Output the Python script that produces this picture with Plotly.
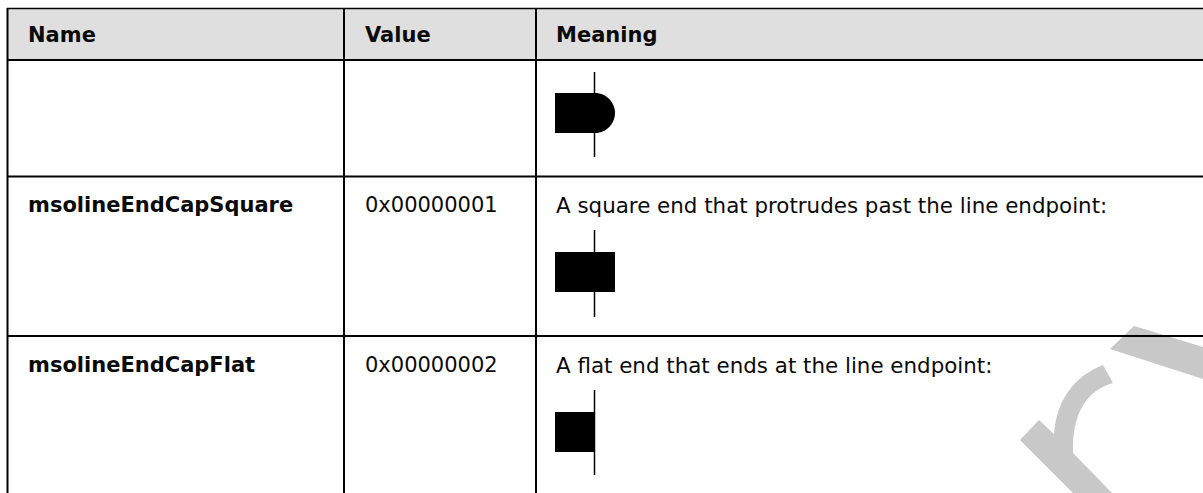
import plotly.graph_objects as go

W, H = 1203, 493
headers = ["Name", "Value", "Meaning"]
names = ["msolineEndCapSquare", "msolineEndCapFlat"]
values = ["0x00000001", "0x00000002"]
meanings = ["A square end that protrudes past the line endpoint:",
            "A flat end that ends at the line endpoint:"]

FONT = "DejaVu Sans, Verdana, sans-serif"
fig = go.Figure()
shapes = []
ann = []

def line(x0, y0, x1, y1, c="black", w=2):
    shapes.append(dict(type="line", x0=x0, y0=y0, x1=x1, y1=y1, line=dict(color=c, width=w), layer="above"))

def rect(x0, y0, x1, y1, c="black"):
    shapes.append(dict(type="rect", x0=x0, y0=y0, x1=x1, y1=y1, fillcolor=c, line=dict(width=0)))

def text(x, y, s, bold=False, size=21):
    ann.append(dict(x=x, y=y, text=f"<b>{s}</b>" if bold else s, showarrow=False, xanchor="left", yanchor="middle",
                    xref="x", yref="y", font=dict(family=FONT, size=size, color="#0a0a0a"), align="left"))

rect(8, 9, W, 60, "#dfdfdf")
# watermark
wm = "#c8c8c8"
shapes.append(dict(type="path", path="M1134,326 L1203,347 L1203,379 L1110,349 Z", fillcolor=wm, line=dict(width=0)))
shapes.append(dict(type="path", path="M1039,420 L1020,440 L1073,493 L1112,493 L1073,453 C1072,413 1087,390 1113,383 L1103,365 C1077,375 1057,397 1054,434 Z", fillcolor=wm, line=dict(width=0)))

line(7, 8.5, W, 8.5, w=1.5)
for y in (60, 176.5, 336):
    line(7, y, W, y)
for x in (7.5, 344, 536):
    line(x, 8, x, H)

for x, h in zip((26, 363, 554), headers):
    text(x, 35, h, True)
for y, n, v, m in zip((205, 365), names, values, meanings):
    text(26, y, n, True)
    text(363, y, v)
    text(554, y, m, size=21.4)

# icons
ICON_L, ICON_R = 555, 615
for cy, top, bot, kind in ((113, 72, 157, "round"), (272, 230, 317, "square"), (432, 390, 475, "flat")):
    if kind == "round":
        shapes.append(dict(type="path", fillcolor="black", line=dict(width=0),
            path=f"M{ICON_L},{cy-20} L{ICON_R-20},{cy-20} C{ICON_R-8},{cy-20} {ICON_R},{cy-10} {ICON_R},{cy} C{ICON_R},{cy+10} {ICON_R-8},{cy+20} {ICON_R-20},{cy+20} L{ICON_L},{cy+20} Z"))
    elif kind == "square":
        rect(ICON_L, cy-20, ICON_R, cy+20)
    else:
        rect(ICON_L, cy-20, 595, cy+20)
    line(594.5, top, 594.5, bot, "black", 1.5)

fig.update_layout(width=W, height=H, margin=dict(l=0, r=0, t=0, b=0), paper_bgcolor="white", plot_bgcolor="white",
                  xaxis=dict(range=[0, W], visible=False, fixedrange=True),
                  yaxis=dict(range=[H, 0], visible=False, fixedrange=True),
                  shapes=shapes, annotations=ann, showlegend=False)
fig.write_html("out.html", config=dict(displayModeBar=False),
               post_script="document.body.style.margin='0';document.body.style.overflow='hidden';")
